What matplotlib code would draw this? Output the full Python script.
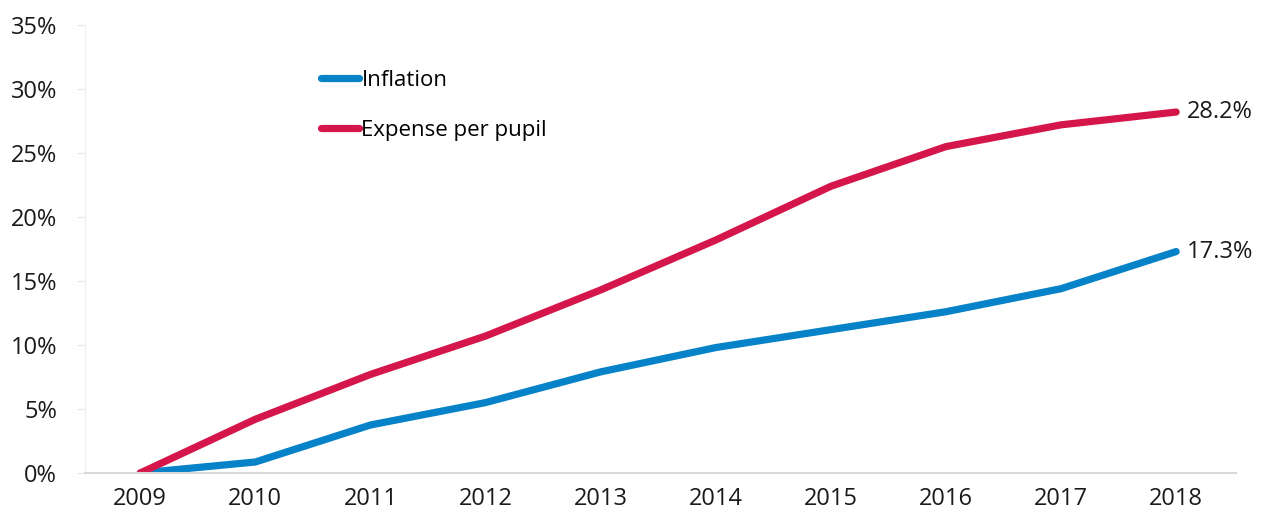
import numpy as np
import matplotlib.pyplot as plt
from matplotlib.ticker import FuncFormatter

plt.rcParams['font.family'] = ['Open Sans', 'DejaVu Sans']

years = ['2009', '2010', '2011', '2012', '2013', '2014', '2015', '2016', '2017', '2018']
inflation = [0.0, 0.86, 3.75, 5.5, 7.9, 9.8, 11.2, 12.6, 14.4, 17.3]
expense = [0.0, 4.2, 7.7, 10.7, 14.3, 18.2, 22.4, 25.5, 27.2, 28.2]

blue = '#0582C8'
red = '#D5164B'
fs = 16

fig = plt.figure(figsize=(12.63, 5.12), dpi=100)
ax = fig.add_axes([85 / 1263, 1 - 473 / 512, 1151 / 1263, 448 / 512])

x = np.arange(len(years))
ax.plot(x, inflation, color=blue, lw=5.2, solid_capstyle='round', label='Inflation')
ax.plot(x, expense, color=red, lw=5.2, solid_capstyle='round', label='Expense per pupil')

ax.text(x[-1] + 0.09, inflation[-1], '%.1f%%' % inflation[-1], va='center', ha='left', fontsize=fs + 1, color='#1a1a1a')
ax.text(x[-1] + 0.09, expense[-1], '%.1f%%' % expense[-1], va='center', ha='left', fontsize=fs + 1, color='#1a1a1a')

ax.set_xlim(-0.48, 9.52)
ax.set_ylim(0, 35)
ax.set_yticks(np.arange(0, 36, 5))
ax.yaxis.set_major_formatter(FuncFormatter(lambda v, p: '%d%%' % v))
ax.set_xticks(x)
ax.set_xticklabels(years)

for s in ['top', 'right']:
    ax.spines[s].set_visible(False)
ax.spines['left'].set_color('#f0f0f0')
ax.spines['bottom'].set_color('#d9d9d9')
ax.spines['bottom'].set_linewidth(1.5)
ax.tick_params(axis='y', length=6, color='#e6e6e6', labelsize=fs + 1, labelcolor='#1a1a1a', pad=14)
ax.tick_params(axis='x', length=0, labelsize=fs + 1, labelcolor='#1a1a1a', pad=10)

leg = ax.legend(loc='upper left', bbox_to_anchor=(0.188, 0.944), frameon=False, fontsize=fs,
                handlelength=1.7, handletextpad=0.1, labelspacing=1.3)

fig.savefig('out.png', dpi=100)
